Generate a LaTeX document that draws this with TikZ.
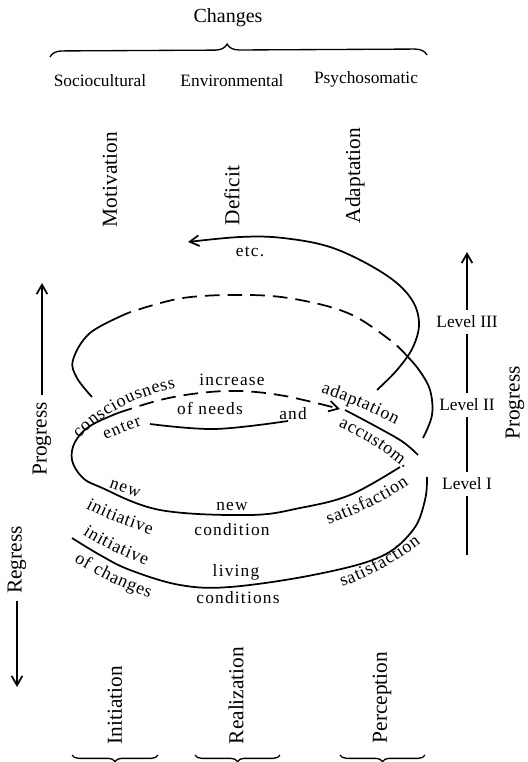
\documentclass[tikz,border=0pt]{standalone}
\usepackage{fontspec}
\setmainfont{Liberation Serif}
\newfontfamily\spacedfont{Liberation Serif}[LetterSpace=7]
\usetikzlibrary{arrows.meta,decorations.pathreplacing,decorations.text}
\newcommand\ringfont{\spacedfont\fontsize{13}{15}\selectfont}
\newcommand\curvfont{\fontsize{13.5}{15}\selectfont\kern0.55pt}

\begin{document}
\begin{tikzpicture}[x=0.75pt,y=-0.75pt,line width=1.3pt,
  every node/.style={font=\fontsize{13}{15}\selectfont,inner sep=0pt},
  side/.style={rotate=90,anchor=west,font=\fontsize{16}{18}\selectfont},
  ring/.style={font=\ringfont},
  lvl/.style={inner sep=4pt},
  along/.style={decorate,decoration={text along path,text align=center}},
  tip/.style={-{Straight Barb[length=7pt,width=8pt]}},
  hidden/.style={dash pattern=on 11pt off 6pt},
  spiral/.style={smooth,tension=0.6},
  brc/.style={decorate,line width=1pt}]
  \useasboundingbox (0,0) rectangle (527,762);
  % heading and brace
  \node (chg) at (228,18) {\fontsize{15}{17}\selectfont Changes};
  \draw[brc,decoration={brace,amplitude=9pt,aspect=0.47}] (50,57) -- (427,55);
  \node (soc) at (100,81) {Sociocultural};
  \node (env) at (232,81) {Environmental};
  \node (psy) at (366,79) {Psychosomatic};
  \node[side] (mot) at (110,228) {Motivation};
  \node[side] (def) at (232,226) {Deficit};
  \node[side] (ada) at (355,224) {Adaptation};
  % spiral
  \draw[spiral] plot coordinates {(72,538) (100,555) (130,570) (180,585) (230,587) (313,575) (380,557) (413,530) (425,500) (427,477)};
  \draw[spiral] plot coordinates {(118,413) (90,426) (75,442) (72,460) (82,477) (100,487) (160,510) (250,515) (300,508) (350,495) (400,467)};
  \draw[hidden,tip,spiral] plot coordinates {(118,413) (160,400) (200,393) (240,391) (285,396) (340,409)};
  \draw[spiral] plot coordinates {(345,410) (377,427) (403,442) (418,455)};
  \draw[spiral] plot coordinates {(150,424) (215,429) (288,421)};
  \draw[spiral] plot coordinates {(423,438) (432,415) (430,390) (419,370) (407,356)};
  \draw[hidden,spiral] plot coordinates {(407,356) (390,340) (350,314) (300,300) (250,295) (183,298) (128,313)};
  \draw[spiral] plot coordinates {(128,313) (90,333) (73,360) (77,378) (92,397)};
  \draw[tip,spiral] plot coordinates {(377,390) (397,370) (413,347) (419,322) (410,297) (383,273) (333,248) (283,238) (240,237) (188,242)};
  % labels on the spiral
  \node[ring] (etc) at (250,252) {etc.};
  \node[ring] (incr) at (232,380) {increase};
  \node[ring] (needs) at (210,408) {of needs};
  \node[ring] (and) at (293,414) {and};
  \node[ring,rotate=22] (ent) at (122,428) {enter};
  \node[ring,rotate=-20] (new1) at (125,489) {new};
  \node[ring] (new2) at (232,506) {new};
  \node[ring] (cond) at (232,530) {condition};
  \node[ring] (liv) at (236,572) {living};
  \node[ring] (conds) at (238,598) {conditions};
  \path[along,decoration={text={|\curvfont|consciousness}}] (60,462) .. controls (92,415) and (140,390) .. (205,384);
  \path[along,decoration={text={|\curvfont|adaptation}}] (296,385) .. controls (340,398) and (375,412) .. (418,437);
  \path[along,decoration={text={|\curvfont|accustom.}}] (318,418) .. controls (355,432) and (390,452) .. (420,483);
  \path[along,decoration={text={|\curvfont|initiative}}] (66,497) .. controls (100,518) and (135,530) .. (172,541);
  \path[along,decoration={text={|\curvfont|satisfaction}}] (300,534) .. controls (345,520) and (395,500) .. (432,466);
  \path[along,decoration={text={|\curvfont|initiative}}] (62,520) .. controls (95,545) and (130,560) .. (169,573);
  \path[along,decoration={text={|\curvfont|of changes}}] (52,547) .. controls (90,575) and (130,593) .. (174,606);
  \path[along,decoration={text={|\curvfont|satisfaction}}] (313,597) .. controls (360,583) and (405,560) .. (444,524);
  % levels
  \coordinate (lv0) at (467,555);
  \node[lvl] (lv1) at (467,484) {Level I};
  \node[lvl] (lv2) at (467,405) {Level II};
  \node[lvl] (lv3) at (467,322) {Level III};
  \coordinate (lvtop) at (467,252);
  \draw (lv0) -- (lv1);
  \draw (lv1) -- (lv2);
  \draw (lv2) -- (lv3);
  \draw[tip] (lv3) -- (lvtop);
  \node[side,anchor=center] (prgr) at (515,403) {Progress};
  % progress / regress
  \node[side,anchor=center,inner sep=5pt] (prgl) at (42,439) {Progress};
  \coordinate (prgtip) at (42,283);
  \draw[tip] (prgl) -- (prgtip);
  \node[side,anchor=center,inner sep=5pt] (rgr) at (17,560) {Regress};
  \coordinate (rgrtip) at (17,687);
  \draw[tip] (rgr) -- (rgrtip);
  % phases
  \node[side] (ini) at (115,745) {Initiation};
  \node[side] (rea) at (236,745) {Realization};
  \node[side] (per) at (382,744) {Perception};
  \draw[brc,decoration={brace,amplitude=5pt}] (158,755) -- (72,755);
  \draw[brc,decoration={brace,amplitude=5pt}] (280,755) -- (195,755);
  \draw[brc,decoration={brace,amplitude=5pt}] (425,755) -- (340,755);
\end{tikzpicture}
\end{document}
